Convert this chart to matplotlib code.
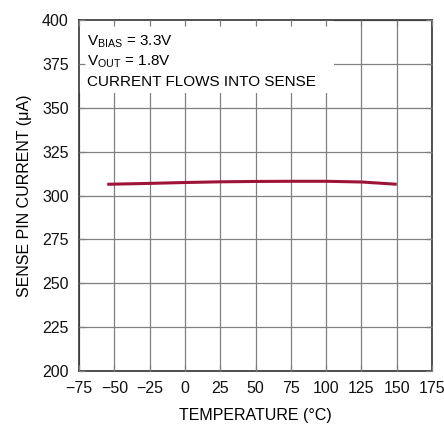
import matplotlib
matplotlib.use("Agg")
import matplotlib.pyplot as plt
from matplotlib.patches import Rectangle

plt.rcParams['font.family'] = ['Liberation Sans', 'DejaVu Sans']
plt.rcParams['mathtext.default'] = 'regular'

# datos
temperatura = [-55, -25, 0, 25, 50, 75, 100, 125, 150]
corriente = [306.4, 306.9, 307.4, 307.8, 308.0, 308.1, 308.1, 307.7, 306.4]

x_ticks = [-75, -50, -25, 0, 25, 50, 75, 100, 125, 150, 175]
x_labels = ['\u221275', '\u221250', '\u221225', '0', '25', '50', '75', '100', '125', '150', '175']
y_ticks = [200, 225, 250, 275, 300, 325, 350, 375, 400]

fs = 11
gris = '#808080'
pos = [0.178, 0.127, 0.795, 0.826]

fig = plt.figure(figsize=(4.44, 4.25), dpi=100)
ax = fig.add_axes(pos)

ax.plot(temperatura, corriente, color='#9e1439', lw=2.2, zorder=4, solid_capstyle='butt')

ax.set_xlim(-75, 175)
ax.set_ylim(200, 400)
ax.set_xticks(x_ticks)
ax.set_xticklabels(x_labels)
ax.set_yticks(y_ticks)
ax.grid(True, color=gris, lw=0.9)
ax.tick_params(length=0, labelsize=fs + 0.5, colors='#111111')
ax.tick_params(axis='x', pad=7.5)
ax.tick_params(axis='y', pad=7.5)
for s in ax.spines.values():
    s.set_color('#333333')
    s.set_linewidth(1.2)
    s.set_zorder(5)

# caja blanca detras del texto
ax.add_patch(Rectangle((-75, 358.4), 180.7, 41.6, facecolor='white',
                       edgecolor='none', zorder=3))

ax.text(-69.5, 385.2, 'V$_{BIAS}$ = 3.3V', fontsize=fs, va='baseline', zorder=4)
ax.text(-69.5, 374.2, 'V$_{OUT}$ = 1.8V', fontsize=fs, va='baseline', zorder=4)
ax.text(-69.5, 362.3, 'CURRENT FLOWS INTO SENSE', fontsize=fs, va='baseline', zorder=4)

ax.set_xlabel('TEMPERATURE (\u00b0C)', fontsize=fs + 0.5, labelpad=8)
ax.set_ylabel('SENSE PIN CURRENT (\u03bcA)', fontsize=fs + 0.5, labelpad=7)

# marcas cortas hacia dentro, visibles sobre la caja
ax2 = fig.add_axes(pos, sharex=ax, sharey=ax)
ax2.patch.set_visible(False)
for s in ax2.spines.values():
    s.set_visible(False)
ax2.tick_params(direction='in', length=4, width=0.9, color=gris,
                top=True, right=True, labelbottom=False, labelleft=False)

fig.savefig('out.png', dpi=100)
